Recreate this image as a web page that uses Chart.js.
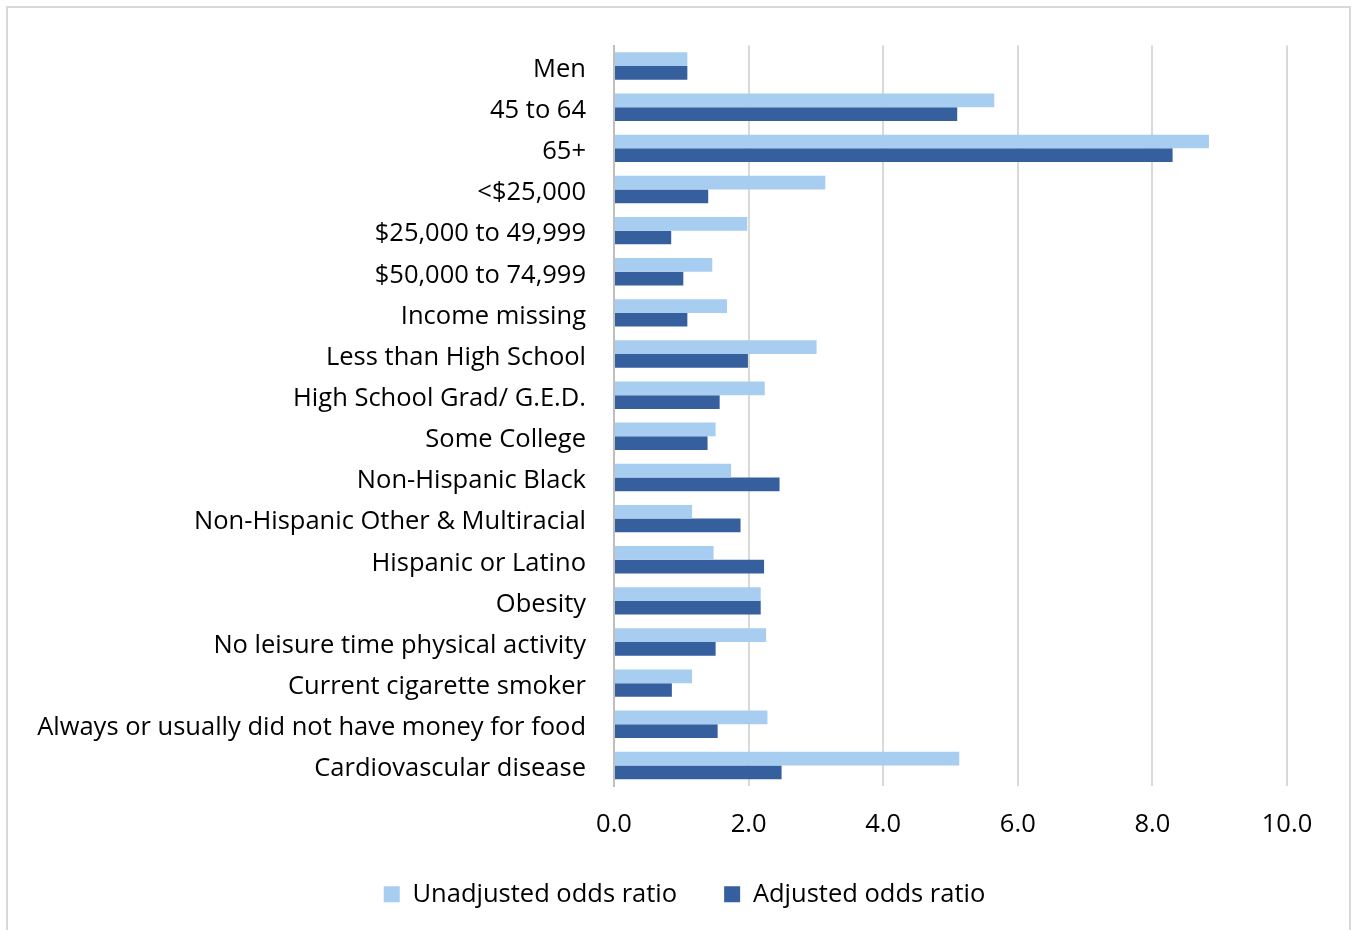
<!DOCTYPE html>
<html><head><meta charset="utf-8">
<script src="https://cdn.jsdelivr.net/npm/chart.js@4.4.0/dist/chart.umd.min.js"></script>
<style>
html,body{margin:0;padding:0;background:#fff;overflow:hidden}
#wrap{position:absolute;left:0;top:0;width:1357px;height:930px}
#frame{position:absolute;left:6px;top:6px;width:1345px;height:960px;border:2px solid #d9d9d9;box-sizing:border-box;pointer-events:none}
canvas{display:block}
</style></head><body>
<div id="wrap"><canvas id="c" width="1357" height="930"></canvas><div id="frame"></div></div>
<script>
const categories = [
  "Men", "45 to 64", "65+", "<$25,000", "$25,000 to 49,999", "$50,000 to 74,999",
  "Income missing", "Less than High School", "High School Grad/ G.E.D.", "Some College",
  "Non-Hispanic Black", "Non-Hispanic Other & Multiracial", "Hispanic or Latino", "Obesity",
  "No leisure time physical activity", "Current cigarette smoker",
  "Always or usually did not have money for food", "Cardiovascular disease"
];
const unadjusted = [1.09, 5.65, 8.84, 3.14, 1.98, 1.46, 1.68, 3.01, 2.24, 1.51, 1.74, 1.16, 1.48, 2.18, 2.26, 1.16, 2.28, 5.13];
const adjusted   = [1.09, 5.10, 8.30, 1.40, 0.85, 1.03, 1.09, 1.99, 1.57, 1.39, 2.46, 1.88, 2.23, 2.18, 1.51, 0.86, 1.54, 2.49];
const seriesNames = ["Unadjusted odds ratio", "Adjusted odds ratio"];
const xTickValues = [0, 2, 4, 6, 8, 10];

const FONT = "Open Sans";
const FS = 25.5;
const LEGEND_SHIFT = 41;

const shiftLegend = {
  id: "shiftLegend",
  afterLayout(chart) {
    const lg = chart.legend;
    if (lg) { lg.left += LEGEND_SHIFT; lg.right += LEGEND_SHIFT; }
  }
};

new Chart(document.getElementById("c"), {
  type: "bar",
  data: {
    labels: categories,
    datasets: [
      { label: seriesNames[0], data: unadjusted, backgroundColor: "#A7CDF0", borderWidth: 0,
        categoryPercentage: 0.667, barPercentage: 1.0 },
      { label: seriesNames[1], data: adjusted, backgroundColor: "#365F9E", borderWidth: 0,
        categoryPercentage: 0.667, barPercentage: 1.0 }
    ]
  },
  options: {
    indexAxis: "y",
    responsive: false,
    animation: false,
    layout: { padding: { top: 45.5, right: 70, left: 0, bottom: 13 } },
    scales: {
      x: {
        min: 0, max: 10,
        afterBuildTicks: (s) => { s.ticks = xTickValues.map(v => ({ value: v })); },
        afterFit: (s) => { s.height = 48.5; },
        grid: { color: "#d9d9d9", lineWidth: 2, drawTicks: false },
        border: { display: false },
        ticks: { padding: 23, color: "#000", font: { family: FONT, size: FS },
                 callback: (v) => Number(v).toFixed(1) }
      },
      y: {
        afterFit: (s) => { s.width = 614; },
        grid: { display: false, drawTicks: false },
        border: { display: true, color: "#bfbfbf", width: 2 },
        ticks: { padding: 28, labelOffset: 3.5, color: "#000", autoSkip: false,
                 font: { family: FONT, size: FS } }
      }
    },
    plugins: {
      legend: {
        position: "bottom",
        labels: { boxWidth: 16, boxHeight: 16, padding: 47, color: "#000",
                  font: { family: FONT, size: FS } }
      },
      tooltip: { enabled: false }
    }
  },
  plugins: [shiftLegend]
});
</script>
</body></html>
